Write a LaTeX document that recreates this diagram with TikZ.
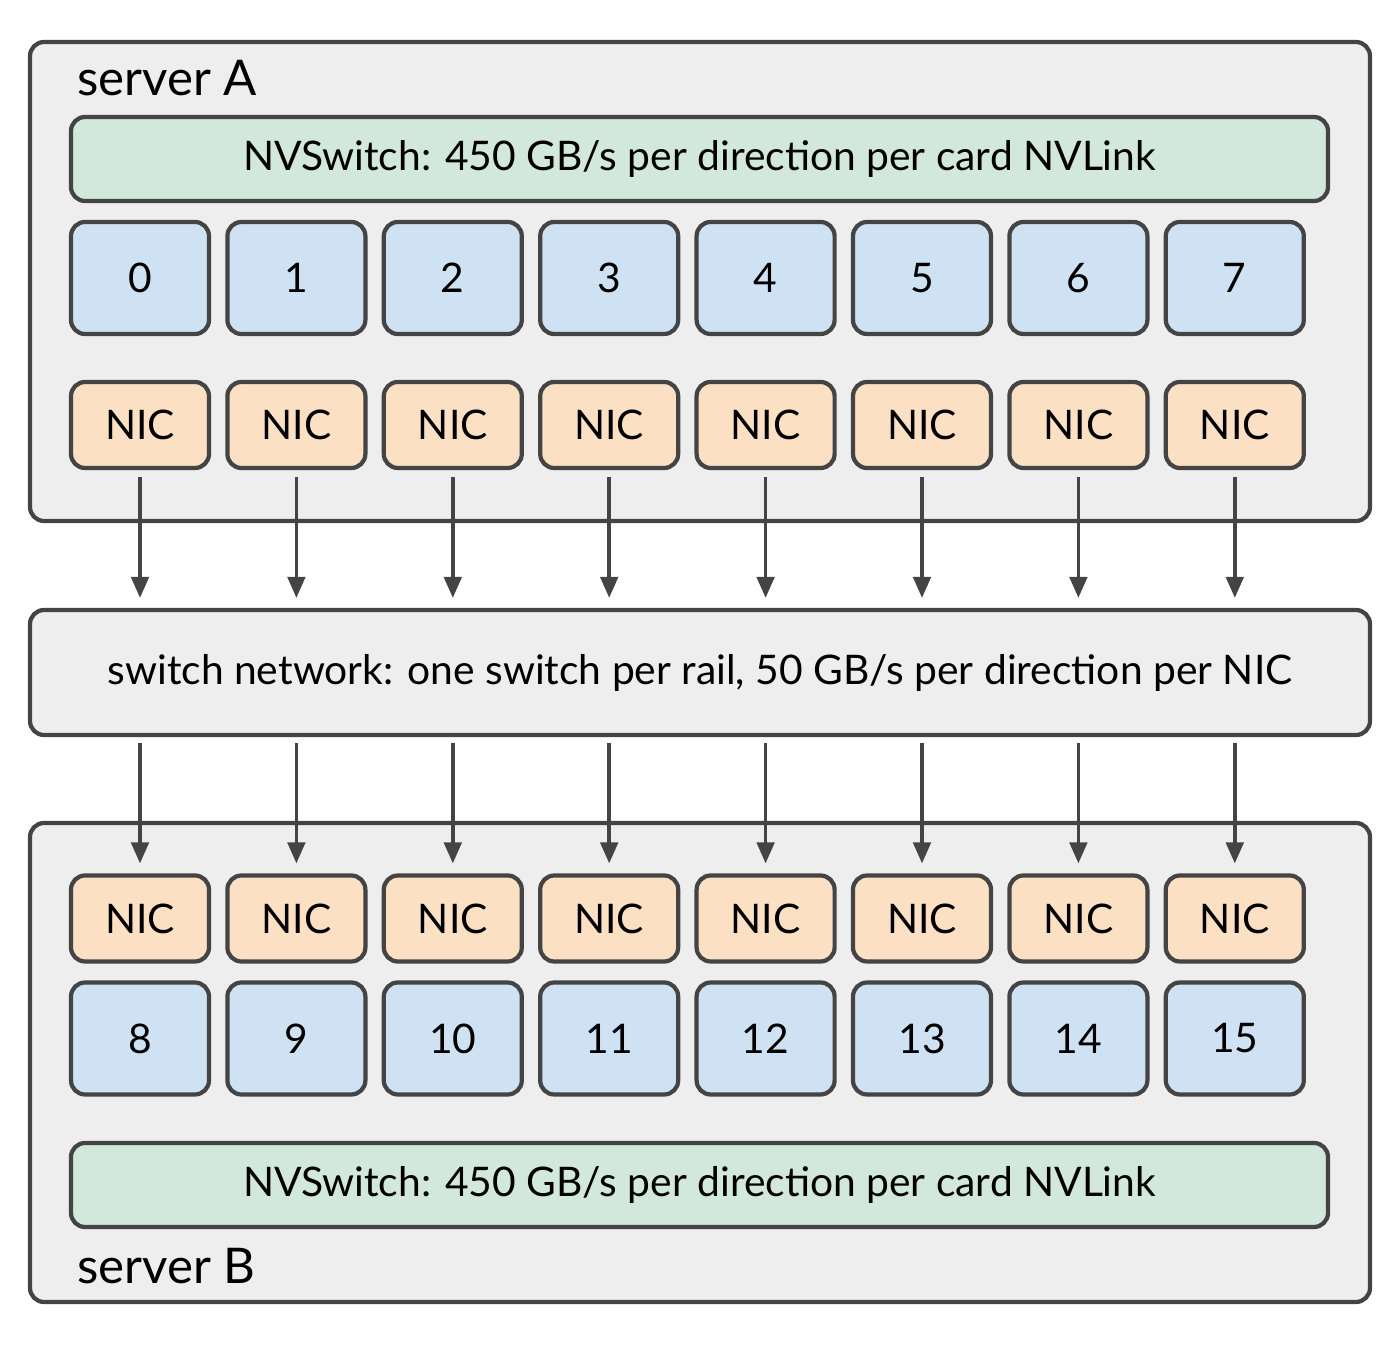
\documentclass[tikz,border=0pt]{standalone}
\usepackage{fontspec}
\setmainfont{Lato}
\usetikzlibrary{positioning, arrows.meta}
\definecolor{boxgray}{HTML}{EEEEEE}
\definecolor{linegray}{HTML}{444444}
\definecolor{nvgreen}{HTML}{D2E8DC}
\definecolor{gpublue}{HTML}{CFE2F3}
\definecolor{nicorange}{HTML}{FBE0C4}
\tikzset{server/.style={draw=linegray,fill=boxgray,line width=1.2pt,rounded corners=4pt},
         nvswitch/.style={draw=linegray,fill=nvgreen,line width=1.2pt,rounded corners=4pt,minimum width=12.57cm,minimum height=0.84cm,font=\fontsize{11.6}{14}\selectfont},
         gpu/.style={draw=linegray,fill=gpublue,line width=1.2pt,rounded corners=4pt,minimum width=1.38cm,minimum height=1.12cm,font=\fontsize{11.6}{14}\selectfont},
         nic/.style={draw=linegray,fill=nicorange,line width=1.2pt,rounded corners=4pt,minimum width=1.38cm,minimum height=0.86cm,font=\fontsize{11.6}{14}\selectfont},
         link/.style={draw=linegray,line width=1pt,-{Triangle[length=6pt,width=5pt]}},
        }
\begin{document}
\begin{tikzpicture}
        \useasboundingbox (0,0) rectangle (14,13.45);
        % servers and switch network
        \draw[server](0.30,8.24)rectangle(13.70,13.03);
        \draw[server](0.30,0.43)rectangle(13.70,5.22);
        \node[server,minimum width=13.4cm,minimum height=1.25cm,font=\fontsize{11.6}{14}\selectfont](net)at(7,6.725){switch network: one switch per rail, 50 GB/s per direction per NIC};
        \node[anchor=west,font=\fontsize{14}{17}\selectfont](la)at(0.65,12.67){server A};
        \node[anchor=west,font=\fontsize{14}{17}\selectfont](lb)at(0.65,0.79){server B};
        \node[nvswitch](nva)at(6.995,11.86){NVSwitch: 450 GB/s per direction per card NVLink};
        \node[nvswitch](nvb)at(6.995,1.60){NVSwitch: 450 GB/s per direction per card NVLink};

        \foreach \i in {0,...,7}{
            \pgfmathsetmacro{\x}{1.40+1.564*\i}
            \pgfmathtruncatemacro{\j}{\i+8}
            \node[gpu](ga\i)at(\x,10.67){\i};
            \node[nic](na\i)at(\x,9.20){NIC};
            \node[nic](nb\i)at(\x,4.265){NIC};
            \node[gpu](gb\i)at(\x,3.065){\j};
            \draw[link]([yshift=-0.07cm]na\i.south)--([yshift=0.1cm]na\i.south|-net.north);
            \draw[link]([yshift=-0.06cm]nb\i.north|-net.south)--([yshift=0.1cm]nb\i.north);
        }
    \end{tikzpicture}
\end{document}
